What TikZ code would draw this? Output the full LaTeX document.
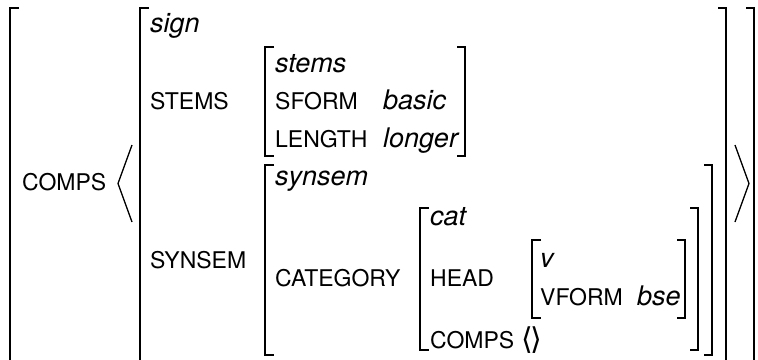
\documentclass[tikz,border=0pt]{standalone}
\usepackage{fontspec}
\setmainfont{TeX Gyre Heros}
\newfontfamily\dejavu{DejaVu Sans}
\begin{document}
\begin{tikzpicture}[x=1pt,y=-1pt,
  brk/.style={line width=2pt, line cap=butt, line join=miter},
  ang/.style={line width=1.3pt, line join=miter},
  feat/.style={anchor=base west, inner sep=0pt, font=\fontsize{23}{25}\selectfont},
  typ/.style={anchor=base west, inner sep=0pt, font=\fontsize{27}{29}\selectfont\itshape},
]
\useasboundingbox (0,0) rectangle (758,359);
% outer brackets
\draw[brk] (19,8) -- (10,8) -- (10,370);
\draw[brk] (746,8) -- (754,8) -- (754,370);
% sign brackets
\draw[brk] (149,8) -- (140,8) -- (140,370);
\draw[brk] (718,8) -- (726,8) -- (726,370);
% angles
\draw[ang] (132,145) -- (118,183.5) -- (132,222);
\draw[ang] (735,145) -- (749,183.5) -- (735,222);
% stems brackets
\draw[brk] (274,47) -- (265,47) -- (265,156) -- (274,156);
\draw[brk] (457,47) -- (465,47) -- (465,156) -- (457,156);
% synsem brackets
\draw[brk] (274,165) -- (265,165) -- (265,355) -- (274,355);
\draw[brk] (704,165) -- (712,165) -- (712,355) -- (704,355);
% cat brackets
\draw[brk] (429,208) -- (420,208) -- (420,350) -- (429,350);
\draw[brk] (690,208) -- (698,208) -- (698,350) -- (690,350);
% v brackets
\draw[brk] (541,240) -- (532,240) -- (532,318) -- (541,318);
\draw[brk] (677,240) -- (685,240) -- (685,318) -- (677,318);
% texts
\node[feat] (compsO) at (22,190) {COMPS};
\node[typ] (sign) at (150,32) {sign};
\node[feat] (stemsF) at (150,109) {STEMS};
\node[typ] (stemsT) at (275,72) {stems};
\node[feat] (sform) at (275,109) {SFORM};
\node[typ] (basic) at (383,109) {basic};
\node[feat] (length) at (275,147) {LENGTH};
\node[typ] (longer) at (383,147) {longer};
\node[typ] (synsemT) at (275,185) {synsem};
\node[feat] (synsemF) at (150,268) {SYNSEM};
\node[feat] (category) at (275,286) {CATEGORY};
\node[typ] (cat) at (430,225) {cat};
\node[feat] (head) at (430,286) {HEAD};
\node[typ] (v) at (540,267) {v};
\node[feat] (vform) at (540,305) {VFORM};
\node[typ] (bse) at (637,305) {bse};
\node[feat] (compsI) at (430,348) {COMPS};
\node[anchor=base west, inner sep=0pt, font=\fontsize{30}{32}\selectfont\dejavu] (empty) at (521,349) {⟨\kern-2pt⟩};
\end{tikzpicture}
\end{document}
